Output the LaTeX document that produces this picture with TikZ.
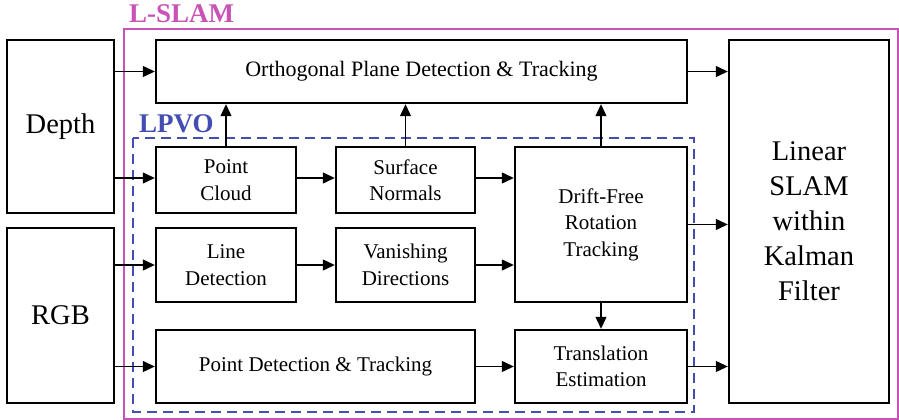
\documentclass[tikz,border=0pt]{standalone}
\usepackage{fontspec}
\setmainfont{Liberation Serif}
\usetikzlibrary{arrows.meta}
\definecolor{slammag}{RGB}{200,82,182}
\definecolor{lpvoblue}{RGB}{68,78,178}

\begin{document}
\begin{tikzpicture}[x=1pt,y=-1pt,
  blk/.style={draw, line width=2.4pt, inner sep=0pt, outer sep=0pt, align=center,
              font=\fontsize{21}{26.5}\selectfont},
  bigblk/.style={blk, font=\fontsize{28.5}{35}\selectfont},
  flow/.style={-{Triangle[length=12pt,width=11pt]}, line width=1.2pt, shorten >=1.2pt},
  frametitle/.style={inner sep=0pt, anchor=base west, font=\bfseries\fontsize{27}{30}\selectfont},
]
\useasboundingbox (0,0) rectangle (899,420);

% outer L-SLAM frame and inner LPVO frame
\draw[slammag, line width=2pt] (124,29) rectangle (897.8,418.8);
\node[frametitle, text=slammag] (slamlbl) at (129,23) {L-SLAM};
\draw[lpvoblue, line width=2.2pt, dash pattern=on 10pt off 6pt] (133,138) rectangle (694,412);
\node[frametitle, text=lpvoblue] (lpvolbl) at (139,132) {LPVO};

% sensor inputs
\node[bigblk, minimum width=107pt, minimum height=173pt] (depth) at (60.5,126.5) {Depth};
\node[bigblk, minimum width=107pt, minimum height=175pt] (rgb) at (60.5,315.5) {RGB};

% processing blocks
\node[blk, minimum width=531pt, minimum height=63pt, font=\fontsize{22}{26}\selectfont] (ortho) at (421.5,71.5) {Orthogonal Plane Detection \& Tracking};
\node[blk, minimum width=140pt, minimum height=66pt] (pcloud) at (226,180) {Point\\Cloud};
\node[blk, minimum width=139pt, minimum height=66pt] (snorm) at (405.5,180) {Surface\\Normals};
\node[blk, minimum width=172pt, minimum height=155pt] (drift) at (601,224.5) {Drift-Free\\Rotation\\Tracking};
\node[blk, minimum width=140pt, minimum height=74pt] (linedet) at (226,265) {Line\\Detection};
\node[blk, minimum width=139pt, minimum height=74pt] (vanish) at (405.5,265) {Vanishing\\Directions};
\node[blk, minimum width=319pt, minimum height=73pt] (pdet) at (315.5,366.5) {Point Detection \& Tracking};
\node[blk, minimum width=172pt, minimum height=73pt] (trans) at (601,366.5) {Translation\\Estimation};
\node[bigblk, minimum width=160pt, minimum height=363pt] (kf) at (809,221.5) {Linear\\SLAM\\within\\Kalman\\Filter};

% data flow
\draw[flow] (depth.east |- ortho.west) -- (ortho.west);
\draw[flow] ([yshift=2pt]depth.east |- pcloud.west) -- ([yshift=2pt]pcloud.west);
\draw[flow] (rgb.east |- linedet.west) -- (linedet.west);
\draw[flow] (rgb.east |- pdet.west) -- (pdet.west);
\draw[flow] ([yshift=2pt]pcloud.east) -- ([yshift=2pt]snorm.west);
\draw[flow] ([yshift=2pt]snorm.east) -- ([yshift=2pt]snorm.east -| drift.west);
\draw[flow] (linedet.east) -- (vanish.west);
\draw[flow] (vanish.east) -- (vanish.east -| drift.west);
\draw[flow] (pdet.east) -- (trans.west);
\draw[flow] (pcloud.north) -- (pcloud.north |- ortho.south);
\draw[flow] (snorm.north) -- (snorm.north |- ortho.south);
\draw[flow] (drift.north) -- (drift.north |- ortho.south);
\draw[flow] (drift.south) -- (trans.north);
\draw[flow] (ortho.east) -- (ortho.east -| kf.west);
\draw[flow] (drift.east) -- (drift.east -| kf.west);
\draw[flow] (trans.east) -- (trans.east -| kf.west);
\end{tikzpicture}
\end{document}
